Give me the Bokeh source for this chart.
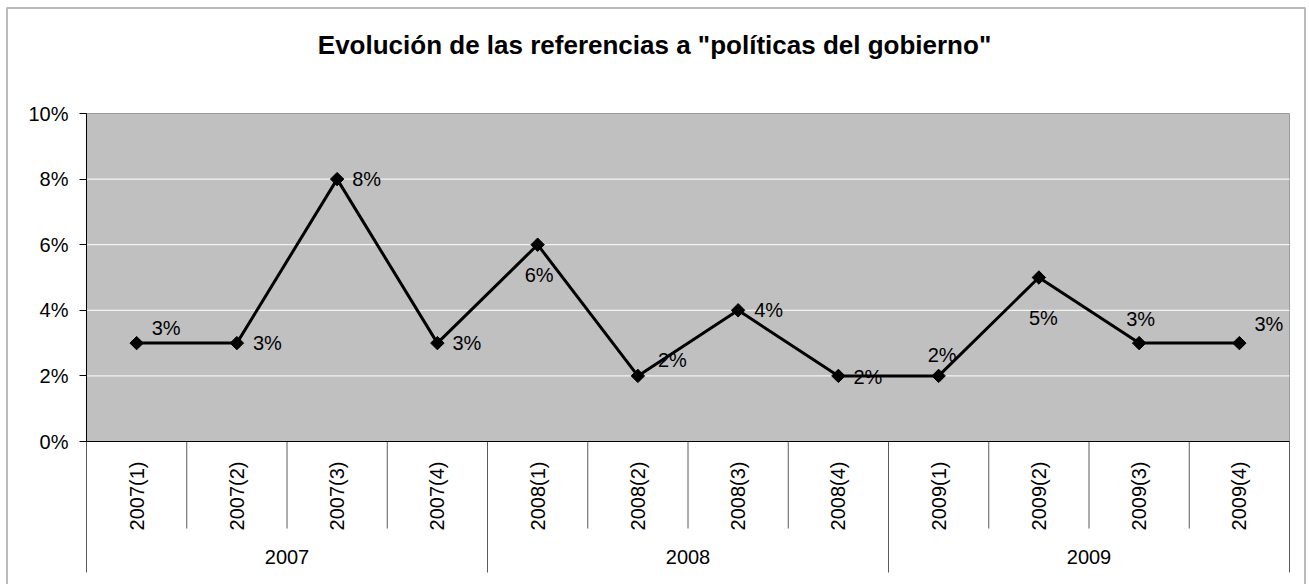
import numpy as np
from bokeh.plotting import figure
from bokeh.models import Range1d, FixedTicker, BoxAnnotation, Label, ColumnDataSource
from bokeh.core.properties import value
from bokeh.embed import file_html
from bokeh.resources import INLINE

# ---------------- data ----------------
TITLE = 'Evolución de las referencias a "políticas del gobierno"'
CATEGORIES = ["2007(1)", "2007(2)", "2007(3)", "2007(4)",
              "2008(1)", "2008(2)", "2008(3)", "2008(4)",
              "2009(1)", "2009(2)", "2009(3)", "2009(4)"]
GROUPS = ["2007", "2008", "2009"]
VALUES = [0.03, 0.03, 0.08, 0.03, 0.06, 0.02, 0.04, 0.02, 0.02, 0.05, 0.03, 0.03]
VALUE_LABELS = ["3%", "3%", "8%", "3%", "6%", "2%", "4%", "2%", "2%", "5%", "3%", "3%"]
Y_TICKS = [0.0, 0.02, 0.04, 0.06, 0.08, 0.10]
Y_TICK_LABELS = ["0%", "2%", "4%", "6%", "8%", "10%"]

# data-label placement (screen px): left-edge x offset, vertical offset (down +)
LABEL_DX = [15, 16, 15, 15, -13, 20, 16, 15, -11, -10, -13, 15]
LABEL_DY = [-15, 0, 0, 0, 30, -16, 0, 1, -21, 40, -24, -19]

# ---------------- layout (pixels) ----------------
FONT = "Liberation Sans"
W, H = 1309, 584
PL_L, PL_R, PL_T, PL_B = 86, 1289, 113, 441     # plot area
n = len(CATEGORIES)
Y_MAX = Y_TICKS[-1]
XPX = (PL_R - PL_L) / n
YPX = (PL_B - PL_T) / Y_MAX


def xd(px):
    return (px - PL_L) / XPX


def yd(py):
    return (PL_B - py) / YPX


XPOS = [i + 0.5 for i in range(n)]

p = figure(width=W, height=H, output_backend="svg", toolbar_location=None,
           x_range=Range1d(xd(0), xd(W)), y_range=Range1d(yd(H), yd(0)),
           min_border_left=0, min_border_right=0,
           min_border_top=0, min_border_bottom=0)
p.outline_line_color = None
p.background_fill_color = "white"
p.border_fill_color = "white"
p.xgrid.visible = False
p.ygrid.visible = False

# chart border (bottom edge lies below the window)
p.add_layout(BoxAnnotation(left=xd(6.5), right=xd(1304.5), top=yd(7.5), bottom=yd(620),
                           fill_alpha=0, line_color="#1a1a1a", line_width=2))

# plot-area background
p.add_layout(BoxAnnotation(left=0, right=n, bottom=0, top=Y_MAX,
                           fill_color="#C0C0C0", fill_alpha=1,
                           line_color="black", line_width=1, level="underlay"))

# horizontal gridlines
gy = Y_TICKS[1:-1]
p.segment(x0=[0] * len(gy), x1=[n] * len(gy), y0=gy, y1=gy,
          line_color="white", line_width=1)

# y axis
yax = p.yaxis[0]
yax.fixed_location = 0
yax.ticker = FixedTicker(ticks=Y_TICKS)
yax.bounds = (0, Y_MAX)
yax.major_label_overrides = {t: l for t, l in zip(Y_TICKS, Y_TICK_LABELS)}
yax.major_tick_in = 0
yax.major_tick_out = 7
yax.minor_tick_line_color = None
yax.major_label_standoff = 11
yax.major_label_text_font = FONT
yax.major_label_text_font_size = "20px"
yax.major_label_text_color = "black"
yax.axis_line_color = "black"
yax.major_tick_line_color = "black"

# x axis (categories) at value 0
xax = p.xaxis[0]
xax.fixed_location = 0
xax.ticker = FixedTicker(ticks=XPOS)
xax.bounds = (0, n)
xax.major_label_overrides = {x: c for x, c in zip(XPOS, CATEGORIES)}
xax.major_label_orientation = np.pi / 2
xax.major_tick_line_color = None
xax.minor_tick_line_color = None
xax.major_tick_out = 0
xax.major_tick_in = 0
xax.major_label_standoff = 20
xax.major_label_text_font = FONT
xax.major_label_text_font_size = "20px"
xax.major_label_text_color = "black"
xax.axis_line_color = "black"
xax.axis_line_width = 1

# separators between categories / groups
sep_x, sep_y1 = [], []
for k in range(n + 1):
    is_group = k == 0 or k == n or CATEGORIES[k][:4] != CATEGORIES[k - 1][:4]
    sep_x.append(float(k))
    sep_y1.append(yd(572 if is_group else 528))
p.segment(x0=sep_x, y0=[0.0] * len(sep_x), x1=sep_x, y1=sep_y1,
          line_color="#5a5a5a", line_width=1)

# group labels
grp_x = [float(np.mean([XPOS[i] for i, c in enumerate(CATEGORIES) if c.startswith(g)]))
         for g in GROUPS]
p.text(x=grp_x, y=[0.0] * len(GROUPS), text=GROUPS, y_offset=115,
       text_align="center", text_baseline="middle",
       text_font=value(FONT), text_font_size="20px", text_color="black")

# series
src = ColumnDataSource(dict(x=XPOS, y=VALUES, lab=VALUE_LABELS,
                            dx=LABEL_DX, dy=LABEL_DY))
p.line(x="x", y="y", source=src, line_color="black", line_width=3)
p.scatter(x="x", y="y", source=src, marker="square", angle=np.pi / 4, size=9.5,
          fill_color="black", line_color="black")
p.text(x="x", y="y", text="lab", x_offset="dx", y_offset="dy", source=src,
       text_align="left", text_baseline="middle",
       text_font=value(FONT), text_font_size="20px", text_color="black")

# title
p.add_layout(Label(x=xd(654), y=yd(44), text=TITLE,
                   text_align="center", text_baseline="middle",
                   text_font=FONT, text_font_size="26px", text_font_style="bold",
                   text_color="black"))

open("out.html", "w").write(file_html(p, INLINE))
